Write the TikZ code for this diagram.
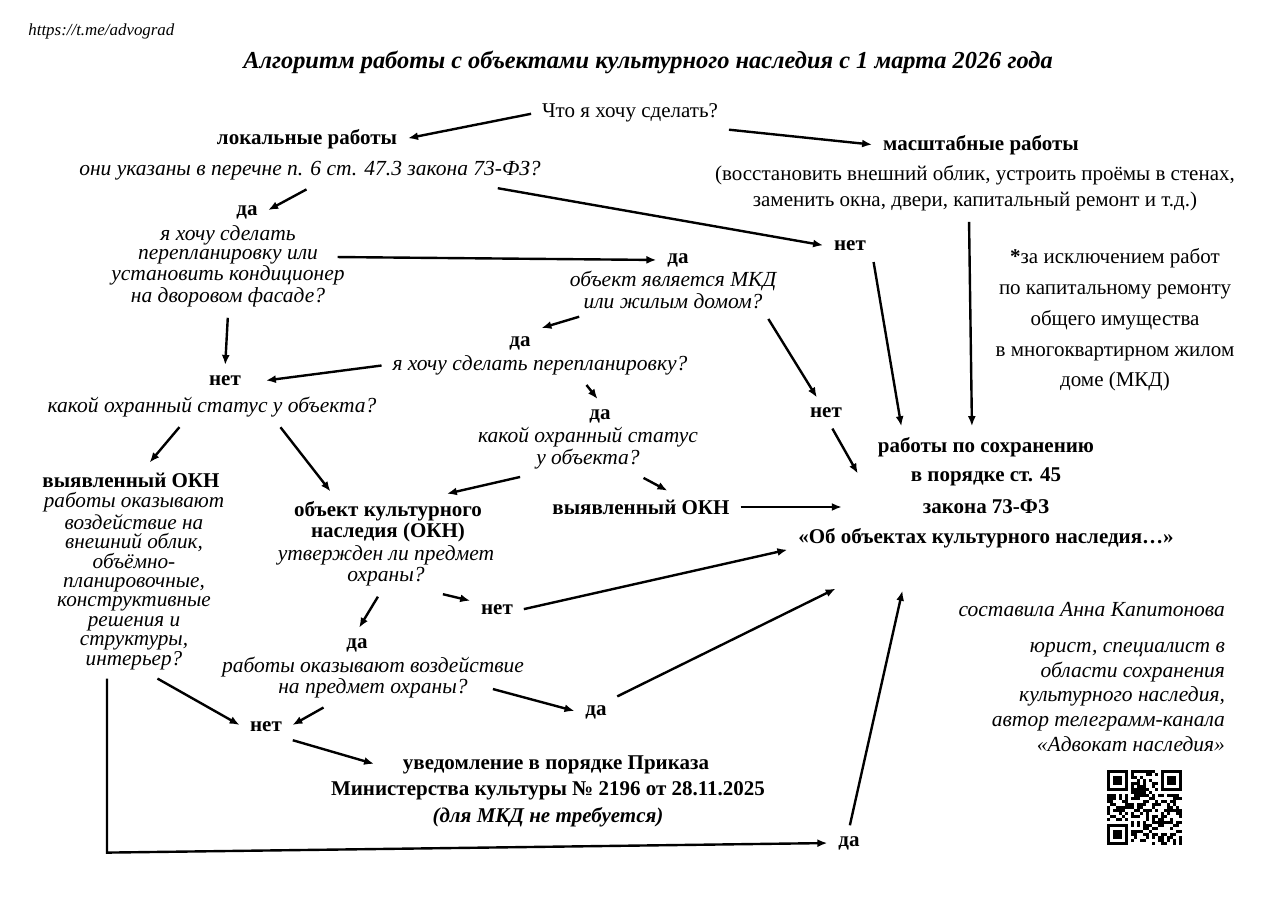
\documentclass[tikz,border=0pt]{standalone}
\usepackage{fontspec}
\setmainfont{Liberation Serif}
\usetikzlibrary{arrows.meta}

\begin{document}
\begin{tikzpicture}[x=0.5pt,y=-0.5pt,
	>={Latex[length=5pt,width=4pt]},
	txt/.style={font=\fontsize{10.5}{12}\selectfont},
	ans/.style={font=\fontsize{10.5}{12}\selectfont\bfseries},
	ask/.style={font=\fontsize{10.75}{9.3}\selectfont\itshape,align=center},
	arr/.style={->,line width=1.2pt,shorten >=2pt,shorten <=2pt}]
	\useasboundingbox (0,0) rectangle (1280,904);
	\fill[white] (0,0) rectangle (1280,904);
	% header
	\node[anchor=west,inner sep=0pt,font=\fontsize{8.45}{9}\selectfont\itshape] (url) at (28,31) {https://t.me/advograd};
	\node[font=\fontsize{12.2}{14}\selectfont\bfseries\itshape] (title) at (648,62) {Алгоритм работы с объектами культурного наследия с 1 марта 2026 года};
	% nodes
	\node[txt] (q0) at (630,113) {Что я хочу сделать?};
	\node[ans] (local) at (307,139) {локальные работы};
	\node[ask] (localq) at (310,171) {они указаны в перечне п. 6 ст. 47.3 закона 73-ФЗ?};
	\node[ans] (mass) at (981,145) {масштабные работы};
	\node[align=center,font=\fontsize{10.5}{13}\selectfont] (massnote) at (975,188) {(восстановить внешний облик, устроить проёмы в стенах,\\заменить окна, двери, капитальный ремонт и т.д.)};
	\node[ans] (da1) at (247,212) {да};
	\node[ask,font=\fontsize{10.75}{9.4}\selectfont\itshape] (qda1) at (228,266) {я хочу сделать\\перепланировку или\\установить кондиционер\\на дворовом фасаде?};
	\node[ans] (net1) at (850,246) {нет};
	\node[ans] (da2) at (678,260) {да};
	\node[ask] (qda2) at (673,290) {объект является МКД\\или жилым домом?};
	\node[align=center,font=\fontsize{10.5}{15.4}\selectfont] (note) at (1115,320) {\textbf{*}за исключением работ\\по капитальному ремонту\\общего имущества\\в многоквартирном жилом\\доме (МКД)};
	\node[ans] (da3) at (520,343) {да};
	\node[ask] (qda3) at (540,365) {я хочу сделать перепланировку?};
	\node[ans] (net2) at (225,381) {нет};
	\node[ask] (qnet2) at (212,407) {какой охранный статус у объекта?};
	\node[ans] (da4) at (600,416) {да};
	\node[ask] (qda4) at (588,448) {какой охранный статус\\у объекта?};
	\node[ans] (net3) at (826,413) {нет};
	\node[ans] (res1) at (986,447) {работы по сохранению};
	\node[ans] (res2) at (986,477) {в порядке ст. 45};
	\node[ans] (res3) at (986,507) {закона 73-ФЗ};
	\node[ans] (res4) at (986,538) {«Об объектах культурного наследия…»};
	\node[ans] (okn1) at (131,480) {выявленный ОКН};
	\node[ask,font=\fontsize{10.6}{9.7}\selectfont\itshape] (qokn1) at (134,581) {работы оказывают\\воздействие на\\внешний облик,\\объёмно-\\планировочные,\\конструктивные\\решения и\\структуры,\\интерьер?};
	\node[align=center,font=\fontsize{10.5}{8.5}\selectfont\bfseries] (okn2) at (388,522) {объект культурного\\наследия (ОКН)};
	\node[ask] (qokn2) at (386,566) {утвержден ли предмет\\охраны?};
	\node[ans] (okn3) at (641,507) {выявленный ОКН};
	\node[ans] (net4) at (497,610) {нет};
	\node[ans] (da5) at (357,645) {да};
	\node[align=center,font=\fontsize{10.75}{10.5}\selectfont\itshape] (qda5) at (373,678) {работы оказывают воздействие\\на предмет охраны?};
	\node[ans] (net5) at (266,727) {нет};
	\node[ans] (da6) at (596,712) {да};
	\node[ans] (notif1) at (556,765) {уведомление в порядке Приказа};
	\node[ans] (notif2) at (548,791) {Министерства культуры № 2196 от 28.11.2025};
	\node[font=\fontsize{10.5}{12}\selectfont\bfseries\itshape] (notif3) at (548,817) {(для МКД не требуется)};
	\node[ans] (da7) at (849,843) {да};
	% author
	\node[ask,anchor=east] (author) at (1232,610) {составила Анна Капитонова};
	\node[align=right,anchor=east,font=\fontsize{10.75}{12.4}\selectfont\itshape] (about) at (1232,697) {юрист, специалист в\\области сохранения\\культурного наследия,\\автор телеграмм-канала\\«Адвокат наследия»};
	% arrows
	\draw[arr] (q0.west) -- (local.east);
	\draw[arr] (q0.south east) -- (mass.west);
	\draw[arr] (localq.south) -- (da1.east);
	\draw[arr] ([xshift=-27pt]localq.south east) -- (net1.west);
	\draw[arr] ([xshift=-9pt,yshift=4.5pt]qda1.east) -- (da2.west);
	\draw[arr] (qda1.south) -- (net2.north);
	\draw[arr] (net1.south east) -- ([xshift=-42pt]res1.north);
	\draw[arr] ([xshift=-3pt]massnote.south) -- ([xshift=-7pt]res1.north);
	\draw[arr] ([xshift=-45pt]qda2.south) -- (da3.north east);
	\draw[arr] ([xshift=-8.5pt]qda2.south east) -- (net3.120);
	\draw[arr] (qda3.west) -- ([xshift=7pt]net2.east);
	\draw[arr] ([xshift=22pt]qda3.south) -- (da4.north);
	\draw[arr] ([xshift=-15pt]qnet2.south) -- ([xshift=8pt]okn1.north);
	\draw[arr] ([xshift=33pt]qnet2.south) -- ([xshift=-27.5pt]okn2.north);
	\draw[arr] (net3.-70) -- ([xshift=-22pt]res2.west);
	\draw[arr] ([xshift=-32pt]qda4.south) -- ([xshift=27.5pt]okn2.north);
	\draw[arr] ([xshift=26pt]qda4.south) -- ([xshift=15pt]okn3.north);
	\draw[arr] (okn3.east) -- ([xshift=-35pt]res3.west);
	\draw[arr] ([xshift=-3pt]qokn2.south) -- (da5.north);
	\draw[arr] ([xshift=26.5pt]qokn2.south) -- (net4.160);
	\draw[arr] (net4.east) -- ([yshift=3pt]res4.south west);
	\draw[arr] ([xshift=10pt]qokn1.south) -- (net5.west);
	\draw[arr] ([xshift=-23pt]qda5.south) -- (net5.east);
	\draw[arr] ([xshift=-21pt,yshift=-5pt]qda5.east) -- (da6.west);
	\draw[arr] (da6.north east) -- ([xshift=24pt,yshift=-16pt]res4.south west);
	\draw[arr] (net5.south east) -- ([xshift=-9pt]notif1.west);
	\draw[arr,shorten <=1pt] ([xshift=-13.5pt]qokn1.south) -- ++(0,176) -- (da7.west);
	\draw[arr] (da7.north) -- ([xshift=56pt,yshift=-16pt]res4.south west);
	% qr code
	\foreach \qx/\qy in {0/0,18/0,0/18}{
		\fill (1107+\qx*3,770+\qy*3) rectangle ++(21,21);
		\fill[white] (1110+\qx*3,773+\qy*3) rectangle ++(15,15);
		\fill (1113+\qx*3,776+\qy*3) rectangle ++(9,9);
	}
	\pgfmathsetseed{2026}
	\foreach \i in {0,...,24}{
		\foreach \j in {0,...,24}{
			\pgfmathtruncatemacro\qrdot{(rnd>0.5)*(1-((\i<8)*(\j<8)+(\i>16)*(\j<8)+(\i<8)*(\j>16)))}
			\ifnum\qrdot=1 \fill (1107+\i*3,770+\j*3) rectangle ++(3.1,3.1);\fi
		}
	}
\end{tikzpicture}
\end{document}
